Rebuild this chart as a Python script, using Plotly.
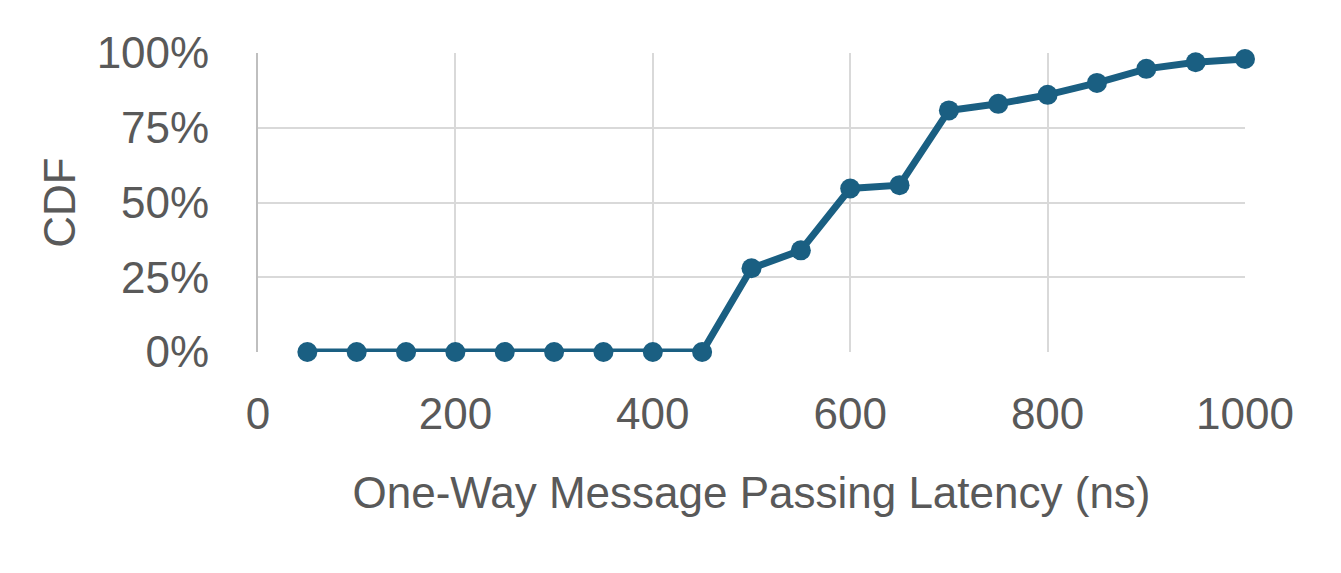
import plotly.graph_objects as go

latency_ns = [50, 100, 150, 200, 250, 300, 350, 400, 450, 500, 550, 600, 650, 700, 750, 800, 850, 900, 950, 1000]
cdf = [0, 0, 0, 0, 0, 0, 0, 0, 0, 0.28, 0.34, 0.547, 0.558, 0.808, 0.83, 0.86, 0.90, 0.947, 0.969, 0.98]
x_ticks = [0, 200, 400, 600, 800, 1000]
y_ticks = [0, 0.25, 0.5, 0.75, 1.0]
y_tick_labels = ["0%", "25%", "50%", "75%", "100%"]

color = "#1a5f82"
font = "Liberation Sans, Arial, sans-serif"

fig = go.Figure(go.Scatter(
    x=latency_ns, y=cdf, mode="lines+markers",
    line=dict(color=color, width=7),
    marker=dict(color=color, size=20),
    cliponaxis=False,
))
fig.update_layout(
    width=1341, height=573,
    margin=dict(l=250, r=104, t=45, b=229),
    plot_bgcolor="white", paper_bgcolor="white",
    showlegend=False,
    font=dict(family=font, size=44, color="#595959"),
)
fig.update_xaxes(
    range=[0, 1000], tickvals=x_ticks, ticktext=[str(v) for v in x_ticks],
    showgrid=True, gridcolor="#d9d9d9", gridwidth=2, zeroline=False,
    showline=False, ticks="", ticklabelstandoff=32,
    title=dict(text="One-Way Message Passing Latency (ns)", standoff=40,
               font=dict(size=44, color="#595959")),
)
fig.update_yaxes(
    range=[0, 1.0], tickvals=y_ticks, ticktext=y_tick_labels,
    showgrid=True, gridcolor="#d9d9d9", gridwidth=2, zeroline=False,
    showline=True, linecolor="#bfbfbf", linewidth=2, ticks="", ticklabelstandoff=38,
    title=dict(text="CDF", standoff=7, font=dict(size=44, color="#595959")),
)
fig.write_html("out.html")
